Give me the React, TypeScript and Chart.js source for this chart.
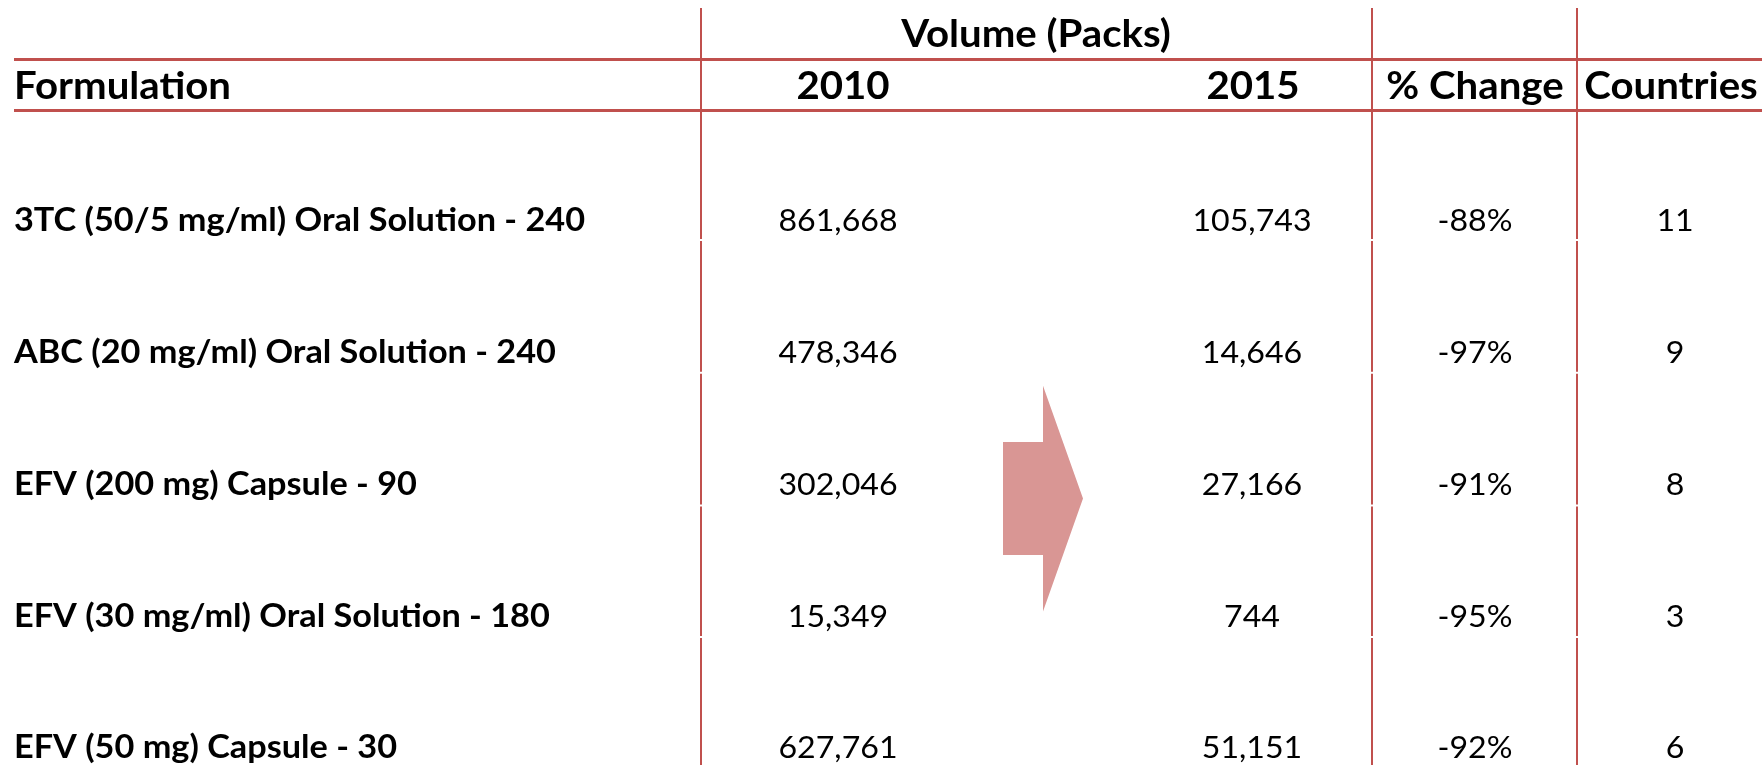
import React, { useEffect, useRef } from "react";
import { Chart, registerables } from "chart.js";

Chart.register(...registerables);

// ---------- DATA ----------
const formulations = [
  "3TC (50/5 mg/ml) Oral Solution - 240",
  "ABC (20 mg/ml) Oral Solution - 240",
  "EFV (200 mg) Capsule - 90",
  "EFV (30 mg/ml) Oral Solution - 180",
  "EFV (50 mg) Capsule - 30",
];
const volume2010 = [861668, 478346, 302046, 15349, 627761];
const volume2015 = [105743, 14646, 27166, 744, 51151];
const pctChange = [-88, -97, -91, -95, -92];
const countries = [11, 9, 8, 3, 6];
const groupHeader = "Volume (Packs)";
const columnHeaders = ["Formulation", "2010", "2015", "% Change", "Countries"];

// ---------- LAYOUT (x in scale units 0..1762, y in row units) ----------
const X_MIN = 0;
const X_MAX = 1762;
const Y_MIN = -1.75;
const Y_MAX = 4.05;
const COL_X = { label: 14, v2010: 838, v2015: 1252, pct: 1475, cty: 1675 };
const HEAD_X = [14, 843, 1253, 1475, 1671];
const GROUP_X = 1036;
const GROUP_Y = -1.394;
const HEAD_Y = -1.0;
const RULES_Y = [-1.303, -0.917];
const RULE_LEFT = 14;
const VLINES_X = [701, 1372, 1577];
const VLINE_TOP = -1.689;
const VGAPS_Y = [0.07, 1.077, 2.083, 3.08];
const ARROW = { x0: 1003, x1: 1043, x2: 1083, cy: 2.03, rectHalf: 0.428, headHalf: 0.856 };

const LINE_COLOR = "#C0504D";
const ARROW_COLOR = "#D99694";
const TEXT_COLOR = "#000000";
const FONT = "Lato, 'Open Sans', 'Noto Sans', sans-serif";

type Style = { weight: string; cap: number; ref: string; refW: number };
const STYLES: Record<string, Style> = {
  head: { weight: "bold", cap: 27.5, ref: "Formulation", refW: 217 },
  row: { weight: "bold", cap: 23, ref: "3TC (50/5 mg/ml) Oral Solution - 240", refW: 571 },
  val: { weight: "normal", cap: 23, ref: "861,668", refW: 119 },
};

function fitStyle(ctx: CanvasRenderingContext2D, s: Style) {
  ctx.font = `${s.weight} 100px ${FONT}`;
  const capRatio = ctx.measureText("H").actualBoundingBoxAscent / 100 || 0.72;
  const size = s.cap / capRatio;
  ctx.font = `${s.weight} ${size}px ${FONT}`;
  const w = ctx.measureText(s.ref).width;
  return { font: ctx.font, sx: w > 0 ? s.refW / w : 1 };
}

function drawText(
  ctx: CanvasRenderingContext2D,
  text: string,
  x: number,
  y: number,
  styleKey: string,
  align: CanvasTextAlign
) {
  const f = fitStyle(ctx, STYLES[styleKey]);
  ctx.save();
  ctx.font = f.font;
  ctx.fillStyle = TEXT_COLOR;
  ctx.textAlign = align;
  ctx.textBaseline = "alphabetic";
  ctx.translate(x, y);
  ctx.scale(f.sx, 1);
  ctx.fillText(text, 0, 0);
  ctx.restore();
}

const fmt = (v: number) => v.toLocaleString("en-US");

const tablePlugin = {
  id: "tablePlugin",
  afterDraw(chart: any) {
    const ctx: CanvasRenderingContext2D = chart.ctx;
    const xs = chart.scales.x;
    const ys = chart.scales.y;
    const px = (v: number) => xs.getPixelForValue(v);
    const py = (v: number) => ys.getPixelForValue(v);
    const W = chart.width;
    const H = chart.height;

    // arrow
    ctx.save();
    ctx.fillStyle = ARROW_COLOR;
    ctx.beginPath();
    ctx.moveTo(px(ARROW.x0), py(ARROW.cy - ARROW.rectHalf));
    ctx.lineTo(px(ARROW.x1), py(ARROW.cy - ARROW.rectHalf));
    ctx.lineTo(px(ARROW.x1), py(ARROW.cy - ARROW.headHalf));
    ctx.lineTo(px(ARROW.x2), py(ARROW.cy));
    ctx.lineTo(px(ARROW.x1), py(ARROW.cy + ARROW.headHalf));
    ctx.lineTo(px(ARROW.x1), py(ARROW.cy + ARROW.rectHalf));
    ctx.lineTo(px(ARROW.x0), py(ARROW.cy + ARROW.rectHalf));
    ctx.closePath();
    ctx.fill();
    ctx.restore();

    // vertical lines with small gaps at row boundaries
    ctx.save();
    ctx.strokeStyle = LINE_COLOR;
    ctx.lineWidth = 2;
    VLINES_X.forEach((xv) => {
      const x = Math.round(px(xv));
      let top = py(VLINE_TOP);
      const stops = VGAPS_Y.map((g) => py(g)).concat([H + 2]);
      stops.forEach((s, i) => {
        ctx.beginPath();
        ctx.moveTo(x, top);
        ctx.lineTo(x, i < stops.length - 1 ? s - 1 : s);
        ctx.stroke();
        top = s + 1;
      });
    });
    // horizontal rules
    ctx.lineWidth = 3;
    RULES_Y.forEach((yv) => {
      const y = Math.round(py(yv)) + 0.5;
      ctx.beginPath();
      ctx.moveTo(px(RULE_LEFT), y);
      ctx.lineTo(W, y);
      ctx.stroke();
    });
    ctx.restore();

    // headers
    drawText(ctx, groupHeader, px(GROUP_X), py(GROUP_Y), "head", "center");
    columnHeaders.forEach((h, i) => {
      drawText(ctx, h, px(HEAD_X[i]), py(HEAD_Y), "head", i === 0 ? "left" : "center");
    });

    // cells from dataset elements
    chart.data.datasets.forEach((ds: any, di: number) => {
      const meta = chart.getDatasetMeta(di);
      meta.data.forEach((el: any, j: number) => {
        drawText(ctx, ds.texts[j], el.x, el.y, ds.textStyle, ds.textAlign);
      });
    });
  },
};

export default function App() {
  const canvasRef = useRef<HTMLCanvasElement | null>(null);

  useEffect(() => {
    document.body.style.margin = "0";
    const canvas = canvasRef.current;
    if (!canvas) return;
    const rowPts = (xv: number) => formulations.map((_, i) => ({ x: xv, y: i }));
    const mk = (label: string, xv: number, texts: string[], textStyle: string, textAlign: string) => ({
      label,
      data: rowPts(xv),
      texts,
      textStyle,
      textAlign,
      pointRadius: 0,
      pointHoverRadius: 0,
      showLine: false,
    });
    const chart = new Chart(canvas, {
      type: "scatter",
      data: {
        datasets: [
          mk("Formulation", COL_X.label, formulations, "row", "left"),
          mk("2010", COL_X.v2010, volume2010.map(fmt), "val", "center"),
          mk("2015", COL_X.v2015, volume2015.map(fmt), "val", "center"),
          mk("% Change", COL_X.pct, pctChange.map((v) => `${v}%`), "val", "center"),
          mk("Countries", COL_X.cty, countries.map((v) => `${v}`), "val", "center"),
        ] as any,
      },
      options: {
        animation: false,
        responsive: false,
        devicePixelRatio: 1,
        events: [],
        layout: { padding: 0 },
        plugins: { legend: { display: false }, tooltip: { enabled: false } },
        scales: {
          x: { type: "linear", min: X_MIN, max: X_MAX, display: false },
          y: { type: "linear", min: Y_MIN, max: Y_MAX, reverse: true, display: false },
        },
      },
      plugins: [tablePlugin],
    });
    const fonts: any = (document as any).fonts;
    if (fonts && fonts.load) {
      Promise.all([fonts.load(`bold 30px Lato`), fonts.load(`30px Lato`)])
        .then(() => chart.update())
        .catch(() => {});
    }
    return () => chart.destroy();
  }, []);

  return (
    <div style={{ width: 1762, height: 765, overflow: "hidden", background: "#fff" }}>
      <canvas ref={canvasRef} width={1762} height={765} style={{ display: "block" }} />
    </div>
  );
}
